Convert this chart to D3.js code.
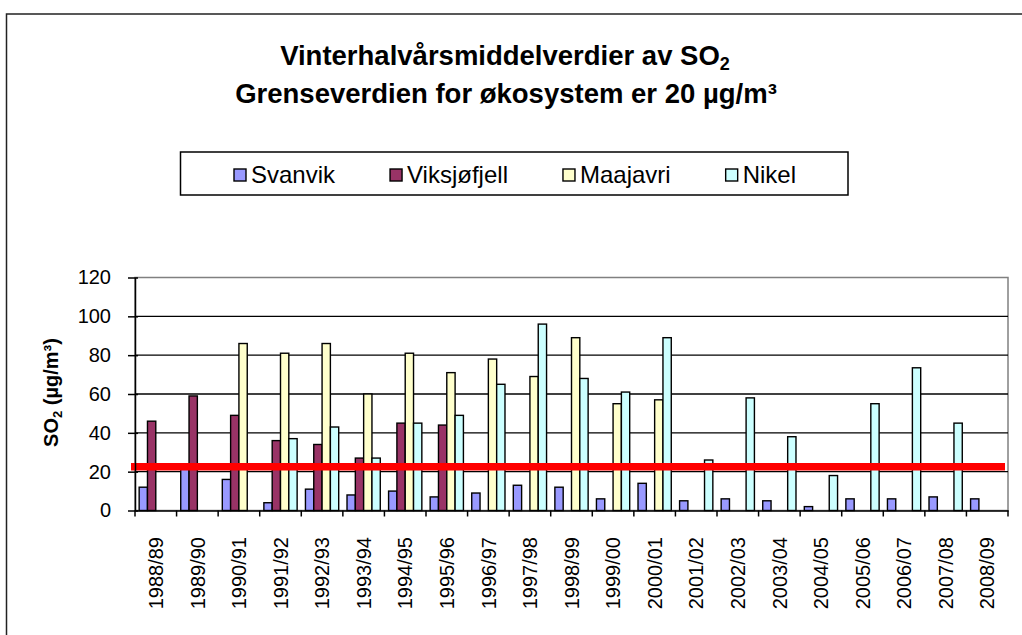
<!DOCTYPE html>
<html>
<head>
<meta charset="utf-8">
<script src="https://cdn.jsdelivr.net/npm/d3@7"></script>
<style>
body{margin:0;background:#fff}
svg{display:block}
text{font-family:"Liberation Sans",Arial,sans-serif;fill:#000}
</style>
</head>
<body>
<div id="chart"></div>
<script>
// values (µg/m3), null = no bar
const seasons = ["1988/89","1989/90","1990/91","1991/92","1992/93","1993/94","1994/95",
                 "1995/96","1996/97","1997/98","1998/99","1999/00","2000/01","2001/02",
                 "2002/03","2003/04","2004/05","2005/06","2006/07","2007/08","2008/09"];
const svanvik     = [12,22,16,4,11,8,10,7,9,13,12,6,14,5,6,5,2,6,6,7,6];
const viksjofjell = [46,59,49,36,34,27,45,44,null,null,null,null,null,null,null,null,null,null,null,null,null];
const maajavri    = [null,null,86,81,86,60,81,71,78,69,89,55,57,null,null,null,null,null,null,null,null];
const nikel       = [null,null,null,37,43,27,45,49,65,96,68,61,89,26,58,38,18,55,73.5,45,null];
const seriesNames = ["Svanvik","Viksjøfjell","Maajavri","Nikel"];
const seriesColors = ["#9999ff","#993366","#ffffcc","#ccffff"];
const yTicks = [0,20,40,60,80,100,120];
const limitValue = 22.5;

const width = 1022, height = 635;
const plot = {left:135, right:1008, top:277.5, bottom:510.5};

const svg = d3.select("#chart").append("svg")
    .attr("width", width).attr("height", height);

// outer chart border
svg.append("rect").attr("x", 6.5).attr("y", 14).attr("width", 1100).attr("height", 700)
    .attr("fill", "#fff").attr("stroke", "#222").attr("stroke-width", 1.5);

const x = d3.scaleBand().domain(seasons).range([plot.left, plot.right]).padding(0);
const y = d3.scaleLinear().domain([0, 120]).range([plot.bottom, plot.top]);
const barW = x.bandwidth() / 5;   // gap width 100%

// plot area border (grey)
svg.append("rect").attr("x", plot.left).attr("y", plot.top)
    .attr("width", plot.right - plot.left).attr("height", plot.bottom - plot.top)
    .attr("fill", "none").attr("stroke", "#808080").attr("stroke-width", 1.5);

// gridlines
svg.append("g").selectAll("line").data(yTicks.slice(1, -1)).enter().append("line")
    .attr("x1", plot.left).attr("x2", plot.right)
    .attr("y1", d => y(d)).attr("y2", d => y(d))
    .attr("stroke", "#000").attr("stroke-width", 1.3);

// bars
const seriesData = [svanvik, viksjofjell, maajavri, nikel];
seriesData.forEach(function(vals, si){
    svg.append("g").selectAll("rect")
        .data(seasons.map((s, i) => ({s: s, v: vals[i]})).filter(d => d.v != null))
        .enter().append("rect")
        .attr("x", d => x(d.s) + x.bandwidth() * 0.1 + si * barW)
        .attr("y", d => y(d.v))
        .attr("width", barW)
        .attr("height", d => y(0) - y(d.v))
        .attr("fill", seriesColors[si])
        .attr("stroke", "#000").attr("stroke-width", 1.4);
});

// limit line
svg.append("line")
    .attr("x1", plot.left - 4).attr("x2", plot.right - 3)
    .attr("y1", y(limitValue)).attr("y2", y(limitValue))
    .attr("stroke", "#ff0000").attr("stroke-width", 7.5);

// y axis
const yAxis = svg.append("g").attr("transform", "translate(" + plot.left + ",0)")
    .call(d3.axisLeft(y).tickValues(yTicks).tickSize(7).tickPadding(17).tickSizeOuter(0));
yAxis.select(".domain").attr("stroke", "#000").attr("stroke-width", 1.5);
yAxis.selectAll(".tick line").attr("stroke", "#000").attr("stroke-width", 1.5);
yAxis.selectAll(".tick").append("line").attr("x1", 0).attr("x2", 3)
    .attr("stroke", "#000").attr("stroke-width", 1.5);
yAxis.selectAll(".tick text").style("font-size", "20px")
    .style("font-family", "'Liberation Sans',Arial,sans-serif").attr("fill", "#000");

// x axis
const xAxis = svg.append("g").attr("transform", "translate(0," + plot.bottom + ")")
    .call(d3.axisBottom(x).tickSize(0).tickPadding(0).tickSizeOuter(0));
xAxis.select(".domain").attr("stroke", "#000").attr("stroke-width", 1.5);
xAxis.selectAll(".tick text").style("font-size", "20px")
    .style("font-family", "'Liberation Sans',Arial,sans-serif").attr("fill", "#000")
    .attr("transform", "rotate(-90)").attr("text-anchor", "end")
    .attr("x", -26.5).attr("y", 0).attr("dy", "0.36em");
const bounds = seasons.map(s => x(s)).concat([plot.right]);
xAxis.append("g").selectAll("line").data(bounds).enter().append("line")
    .attr("x1", d => d).attr("x2", d => d).attr("y1", 0).attr("y2", 6)
    .attr("stroke", "#000").attr("stroke-width", 1.5);

// y axis title
const yt = svg.append("text").attr("transform", "translate(58,392.5) rotate(-90)")
    .attr("text-anchor", "middle").style("font-size", "20px").style("font-weight", "bold");
yt.append("tspan").text("SO");
yt.append("tspan").text("2").style("font-size", "13px").attr("dy", 4);
yt.append("tspan").text(" (µg/m³)").attr("dy", -4);

// title
const t1 = svg.append("text").attr("x", 505).attr("y", 65).attr("text-anchor", "middle")
    .style("font-size", "27.5px").style("font-weight", "bold");
t1.append("tspan").text("Vinterhalvårsmiddelverdier av SO");
t1.append("tspan").text("2").style("font-size", "18px").attr("dy", 5);
svg.append("text").attr("x", 506).attr("y", 103).attr("text-anchor", "middle")
    .style("font-size", "27.5px").style("font-weight", "bold")
    .text("Grenseverdien for økosystem er 20 µg/m³");

// legend
const legend = svg.append("g");
legend.append("rect").attr("x", 180.5).attr("y", 152).attr("width", 667.5).attr("height", 43)
    .attr("fill", "#fff").attr("stroke", "#000").attr("stroke-width", 1.5);
let lx = 234;
seriesNames.forEach(function(name, i){
    legend.append("rect").attr("x", lx).attr("y", 169).attr("width", 12).attr("height", 12)
        .attr("fill", seriesColors[i]).attr("stroke", "#000").attr("stroke-width", 1.4);
    const txt = legend.append("text").attr("x", lx + 17).attr("y", 182.5)
        .style("font-size", "24px").text(name);
    lx += 17 + txt.node().getComputedTextLength() + 55;
});
</script>
</body>
</html>
